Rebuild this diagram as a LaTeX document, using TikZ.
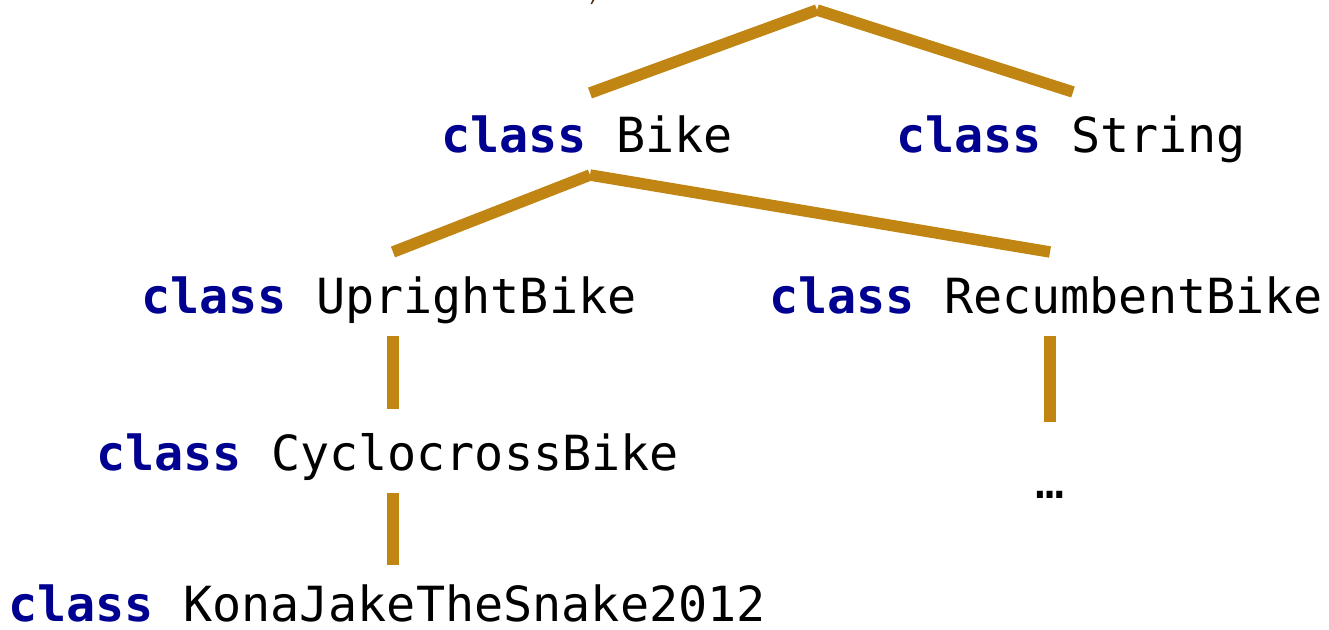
\documentclass[tikz,border=0pt]{standalone}
\usepackage{fontspec}
\setmonofont{DejaVu Sans Mono}
\definecolor{kw}{RGB}{0,0,145}
\definecolor{edge}{RGB}{192,133,18}
\definecolor{tip}{RGB}{70,45,10}
\begin{document}
\begin{tikzpicture}[x=1pt,y=-1pt,
  lbl/.style={anchor=base west,inner sep=0pt,font=\ttfamily\fontsize{48.4}{50}\selectfont},
  link/.style={draw=edge,line width=11.5pt,line cap=butt}]
\useasboundingbox (0,0) rectangle (1329,629);
\node[lbl] (bike) at (441,152) {\textcolor{kw}{\bfseries class} Bike};
\node[lbl] (string) at (896,152) {\textcolor{kw}{\bfseries class} String};
\node[lbl] (upright) at (141,313) {\textcolor{kw}{\bfseries class} UprightBike};
\node[lbl] (recumbent) at (769,313) {\textcolor{kw}{\bfseries class} RecumbentBike};
\node[lbl] (cyclo) at (96,470) {\textcolor{kw}{\bfseries class} CyclocrossBike};
\node[lbl] (kona) at (8,621) {\textcolor{kw}{\bfseries class} KonaJakeTheSnake2012};
\node[anchor=center,inner sep=0pt,font=\ttfamily\fontsize{48.4}{50}\selectfont] (dots) at (1050,495) {…};
% connector end points
\coordinate (top) at (817,10);
\coordinate (bikeUp) at (590,93);
\coordinate (stringUp) at (1073,92);
\coordinate (bikeDown) at (590,175);
\coordinate (uprightUp) at (393,252);
\coordinate (recumbentUp) at (1050,252);
\coordinate (uprightDown) at (393,336);
\coordinate (cycloUp) at (393,409);
\coordinate (recumbentDown) at (1050,336);
\coordinate (dotsUp) at (1050,422);
\coordinate (cycloDown) at (393,493);
\coordinate (konaUp) at (393,565);
\draw[link] (bikeUp) -- (top);
\draw[link] (top) -- (stringUp);
\draw[link] (uprightUp) -- (bikeDown);
\draw[link] (bikeDown) -- (recumbentUp);
\draw[link] (uprightDown) -- (cycloUp);
\draw[link] (recumbentDown) -- (dotsUp);
\draw[link] (cycloDown) -- (konaUp);
\fill[tip] (590.5,4) -- (593,-1) -- (595,-1) -- (592,4) -- cycle;
\end{tikzpicture}
\end{document}
